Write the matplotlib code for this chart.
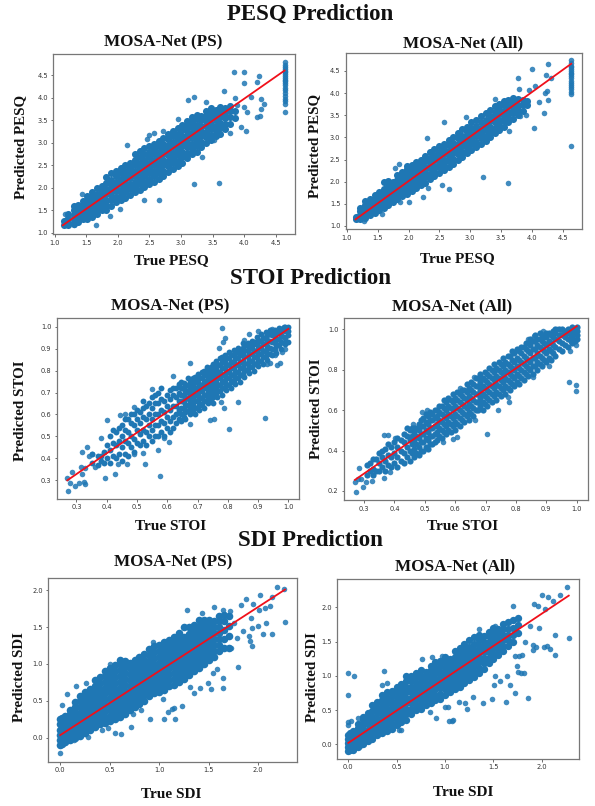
import matplotlib
matplotlib.use("Agg")
import matplotlib.pyplot as plt

W, H = 595, 806

# Points are read off the picture by eye. The dense clouds cannot be told apart
# point by point, so each one is a thinned set: one row of predicted values per true value.

# PESQ, MOSA-Net (PS)
pesq_ps_true = [1.15, 1.22, 1.30, 1.37, 1.45, 1.52, 1.60, 1.67, 1.75, 1.82, 1.90, 1.97, 2.05, 2.12, 2.20, 2.27, 2.35, 2.42,
                2.50, 2.57, 2.65, 2.72, 2.80, 2.87, 2.95, 3.02, 3.10, 3.17, 3.25, 3.32, 3.40, 3.47, 3.55, 3.62, 3.70, 3.77, 3.85]
pesq_ps_pred = [[1.18, 1.27], [1.17, 1.25, 1.33, 1.42], [1.2, 1.3, 1.4, 1.5, 1.6], [1.25, 1.34, 1.44, 1.53, 1.62],
                [1.3, 1.4, 1.5, 1.6, 1.7], [1.3, 1.42, 1.53, 1.63, 1.73, 1.82], [1.35, 1.47, 1.58, 1.69, 1.8, 1.9],
                [1.42, 1.53, 1.64, 1.75, 1.86, 2.0], [1.5, 1.6, 1.71, 1.82, 1.93, 2.05], [1.5, 1.62, 1.74, 1.86, 1.98, 2.1, 2.25],
                [1.6, 1.72, 1.84, 1.95, 2.06, 2.18, 2.33], [1.68, 1.8, 1.92, 2.03, 2.14, 2.26, 2.38],
                [1.72, 1.84, 1.96, 2.08, 2.2, 2.32, 2.45], [1.78, 1.9, 2.02, 2.14, 2.26, 2.38, 2.5],
                [1.85, 1.97, 2.09, 2.21, 2.33, 2.45, 2.56], [1.9, 2.02, 2.14, 2.26, 2.38, 2.5, 2.62, 2.75],
                [1.95, 2.08, 2.2, 2.32, 2.44, 2.56, 2.68, 2.82], [2.02, 2.14, 2.26, 2.38, 2.5, 2.62, 2.74, 2.88],
                [2.08, 2.2, 2.32, 2.44, 2.56, 2.68, 2.8, 2.93], [2.14, 2.26, 2.38, 2.5, 2.62, 2.74, 2.86, 2.98],
                [2.2, 2.32, 2.44, 2.56, 2.68, 2.8, 2.92, 3.04], [2.26, 2.38, 2.5, 2.62, 2.74, 2.86, 2.98, 3.1],
                [2.36, 2.48, 2.6, 2.72, 2.84, 2.96, 3.08, 3.2], [2.42, 2.54, 2.66, 2.78, 2.9, 3.02, 3.14, 3.26],
                [2.48, 2.6, 2.72, 2.84, 2.96, 3.08, 3.2, 3.32], [2.56, 2.68, 2.8, 2.92, 3.04, 3.16, 3.28, 3.4],
                [2.66, 2.78, 2.9, 3.02, 3.14, 3.26, 3.38, 3.48], [2.74, 2.86, 2.98, 3.1, 3.22, 3.34, 3.46, 3.56],
                [2.8, 2.92, 3.04, 3.16, 3.28, 3.4, 3.52, 3.62], [2.9, 3.02, 3.14, 3.26, 3.38, 3.5, 3.6],
                [3.0, 3.12, 3.24, 3.36, 3.48, 3.6, 3.7], [3.06, 3.18, 3.3, 3.42, 3.54, 3.66, 3.76],
                [3.14, 3.26, 3.38, 3.5, 3.62, 3.72], [3.2, 3.32, 3.44, 3.56, 3.68, 3.8], [3.3, 3.42, 3.54, 3.66, 3.78],
                [3.42, 3.56, 3.7, 3.82], [3.55, 3.7]]
pesq_ps_out_x = [3.84, 3.99, 4.0, 4.23, 4.21, 3.68, 3.11, 3.2, 3.85, 4.11, 4.26, 4.32, 4.26, 4.21, 4.25, 3.95, 4.03, 3.77, 3.34, 3.21, 3.61,
                 2.65, 2.42, 2.04, 1.87, 1.65, 1.16, 2.15, 1.43, 3.4, 2.95, 2.72, 2.58, 2.49, 2.46, 1.3, 3.52, 4.04, 3.99, 3.89]
pesq_ps_out_y = [4.57, 4.56, 4.32, 4.48, 4.35, 4.15, 3.95, 4.01, 3.99, 4.02, 3.98, 3.85, 3.75, 3.58, 3.59, 3.34, 3.25, 3.21, 2.68, 2.09, 2.11,
                 1.72, 1.74, 1.54, 1.37, 1.18, 1.42, 2.94, 1.87, 3.91, 3.52, 3.26, 3.21, 3.17, 3.09, 1.17, 3.06, 3.69, 3.8, 3.84]
pesq_ps_top_x = [4.64] * 21
pesq_ps_top_y = [3.68, 3.85, 3.92, 3.98, 4.04, 4.1, 4.16, 4.22, 4.27, 4.32, 4.36, 4.4, 4.44, 4.48, 4.52, 4.56, 4.6, 4.64, 4.68, 4.73, 4.78]
pesq_ps_fit_x = [1.13, 4.64]
pesq_ps_fit_y = [1.17, 4.6]

# PESQ, MOSA-Net (All)
pesq_all_true = [1.15, 1.22, 1.30, 1.37, 1.45, 1.52, 1.60, 1.67, 1.75, 1.82, 1.90, 1.97, 2.05, 2.12, 2.20, 2.27, 2.35, 2.42, 2.50,
                 2.57, 2.65, 2.72, 2.80, 2.87, 2.95, 3.02, 3.10, 3.17, 3.25, 3.32, 3.40, 3.47, 3.55, 3.62, 3.70, 3.77, 3.85, 3.93]
pesq_all_pred = [[1.15, 1.2], [1.15, 1.24, 1.33, 1.4], [1.18, 1.28, 1.38, 1.48, 1.56], [1.24, 1.34, 1.44, 1.54, 1.6],
                 [1.3, 1.4, 1.5, 1.6, 1.7], [1.35, 1.46, 1.56, 1.66, 1.76], [1.4, 1.51, 1.62, 1.73, 1.84, 2.0],
                 [1.47, 1.58, 1.69, 1.8, 1.91, 2.02], [1.55, 1.66, 1.77, 1.88, 1.99], [1.6, 1.71, 1.82, 1.93, 2.04, 2.14],
                 [1.68, 1.79, 1.9, 2.01, 2.12, 2.22], [1.73, 1.84, 1.95, 2.06, 2.17, 2.28, 2.36],
                 [1.78, 1.9, 2.02, 2.14, 2.26, 2.38], [1.85, 1.97, 2.09, 2.21, 2.33, 2.44], [1.92, 2.04, 2.16, 2.28, 2.4, 2.5],
                 [1.98, 2.1, 2.22, 2.34, 2.46, 2.58], [2.06, 2.18, 2.3, 2.42, 2.54, 2.68], [2.12, 2.24, 2.36, 2.48, 2.6, 2.74],
                 [2.2, 2.32, 2.44, 2.56, 2.68, 2.8], [2.26, 2.38, 2.5, 2.62, 2.74, 2.86], [2.34, 2.46, 2.58, 2.7, 2.82, 2.94],
                 [2.4, 2.52, 2.64, 2.76, 2.88, 3.0], [2.5, 2.62, 2.74, 2.86, 2.98, 3.1], [2.56, 2.68, 2.8, 2.92, 3.04, 3.18],
                 [2.64, 2.76, 2.88, 3.0, 3.12, 3.24], [2.72, 2.84, 2.96, 3.08, 3.2, 3.34], [2.78, 2.9, 3.02, 3.14, 3.26, 3.4],
                 [2.86, 2.98, 3.1, 3.22, 3.34, 3.48], [2.92, 3.04, 3.16, 3.28, 3.4, 3.54], [3.0, 3.12, 3.24, 3.36, 3.48, 3.62],
                 [3.1, 3.22, 3.34, 3.46, 3.58, 3.7], [3.16, 3.28, 3.4, 3.52, 3.64, 3.76], [3.24, 3.36, 3.48, 3.6, 3.72, 3.82],
                 [3.34, 3.46, 3.58, 3.7, 3.84], [3.42, 3.54, 3.66, 3.78, 3.88], [3.5, 3.62, 3.74, 3.86], [3.6, 3.72, 3.84], [3.72, 3.82]]
pesq_all_out_x = [4.0, 4.27, 3.78, 4.23, 4.32, 4.05, 4.24, 4.21, 3.96, 3.8, 4.27, 4.11, 4.2, 3.9, 3.81, 4.03, 3.63, 3.21, 3.61, 2.65,
                  2.58, 2.3, 2.94, 1.78, 1.85, 1.86, 2.01, 2.24, 1.57, 1.27, 1.16, 2.32, 2.54, 3.4, 4.64]
pesq_all_out_y = [4.55, 4.66, 4.34, 4.4, 4.35, 4.15, 4.05, 4.0, 4.07, 4.1, 3.84, 3.8, 3.54, 3.5, 3.49, 3.22, 3.14, 2.1, 1.98, 1.83,
                  3.35, 2.99, 3.45, 2.31, 2.4, 1.55, 1.54, 1.66, 1.27, 1.12, 1.16, 1.85, 1.93, 3.87, 2.8]
pesq_all_top_x = [4.64] * 17
pesq_all_top_y = [3.98, 4.03, 4.08, 4.13, 4.18, 4.23, 4.28, 4.33, 4.38, 4.42, 4.46, 4.5, 4.54, 4.58, 4.62, 4.68, 4.74]
pesq_all_fit_x = [1.14, 4.64]
pesq_all_fit_y = [1.15, 4.66]

# STOI, MOSA-Net (PS)
stoi_ps_true = [0.35, 0.37, 0.39, 0.41, 0.43, 0.45, 0.47, 0.49, 0.51, 0.53, 0.55, 0.57, 0.59, 0.61, 0.63, 0.645, 0.66, 0.675, 0.69, 0.705,
                0.72, 0.735, 0.75, 0.765, 0.78, 0.795, 0.81, 0.825, 0.84, 0.855, 0.87, 0.885, 0.90, 0.915, 0.93, 0.945, 0.96, 0.975, 0.99, 1.0]
stoi_ps_pred = [[0.38, 0.42], [0.37, 0.41], [0.38, 0.43], [0.38, 0.44, 0.5], [0.4, 0.46, 0.52], [0.39, 0.45, 0.5, 0.55],
                [0.41, 0.47, 0.52, 0.58], [0.43, 0.49, 0.55, 0.6], [0.46, 0.51, 0.56, 0.61], [0.46, 0.52, 0.58, 0.64],
                [0.48, 0.53, 0.58, 0.63, 0.68], [0.5, 0.55, 0.6, 0.65, 0.7], [0.5, 0.56, 0.61, 0.66], [0.52, 0.57, 0.62, 0.67, 0.71],
                [0.56, 0.6, 0.64, 0.68, 0.72], [0.57, 0.6, 0.63, 0.66, 0.69, 0.72, 0.75], [0.58, 0.61, 0.64, 0.67, 0.7, 0.73],
                [0.6, 0.63, 0.66, 0.69, 0.72, 0.75], [0.6, 0.63, 0.66, 0.69, 0.72, 0.75, 0.77], [0.62, 0.65, 0.68, 0.71, 0.74, 0.77],
                [0.63, 0.66, 0.69, 0.72, 0.75, 0.78, 0.8], [0.65, 0.68, 0.71, 0.74, 0.77, 0.8], [0.65, 0.68, 0.71, 0.74, 0.77, 0.8, 0.83],
                [0.68, 0.71, 0.74, 0.77, 0.8, 0.83], [0.69, 0.72, 0.75, 0.78, 0.81, 0.84, 0.86], [0.71, 0.74, 0.77, 0.8, 0.83, 0.86],
                [0.72, 0.75, 0.78, 0.81, 0.84, 0.87], [0.74, 0.77, 0.8, 0.83, 0.86, 0.88], [0.75, 0.78, 0.81, 0.84, 0.87, 0.89],
                [0.77, 0.8, 0.83, 0.86, 0.89, 0.91], [0.79, 0.82, 0.85, 0.88, 0.91, 0.92], [0.8, 0.83, 0.86, 0.89, 0.92, 0.93],
                [0.82, 0.85, 0.88, 0.91, 0.94], [0.83, 0.86, 0.89, 0.92, 0.95], [0.85, 0.88, 0.91, 0.94, 0.96], [0.87, 0.9, 0.93, 0.96, 0.98],
                [0.88, 0.91, 0.94, 0.97], [0.9, 0.93, 0.96, 0.99], [0.92, 0.95, 0.98, 1.0], [0.93, 0.96, 0.98, 1.0]]
stoi_ps_true2 = [0.38, 0.40, 0.42, 0.44, 0.46, 0.48, 0.50, 0.52, 0.54, 0.56, 0.58, 0.60, 0.62, 0.64, 0.655, 0.67, 0.685, 0.70, 0.715, 0.73, 0.745,
                 0.76, 0.775, 0.79, 0.805, 0.82, 0.835, 0.85, 0.865, 0.88, 0.895, 0.91, 0.925, 0.94, 0.955, 0.97, 0.985]
stoi_ps_pred2 = [[0.39, 0.41], [0.4, 0.46], [0.41, 0.47, 0.53], [0.42, 0.48, 0.54], [0.42, 0.48, 0.53, 0.58], [0.45, 0.5, 0.56, 0.6],
                 [0.47, 0.53, 0.58, 0.62], [0.48, 0.53, 0.59, 0.63, 0.66], [0.5, 0.55, 0.6, 0.65], [0.5, 0.55, 0.6, 0.65, 0.69],
                 [0.52, 0.57, 0.62, 0.67, 0.72], [0.54, 0.59, 0.64, 0.69], [0.54, 0.59, 0.64, 0.69, 0.72], [0.58, 0.62, 0.66, 0.7, 0.74],
                 [0.59, 0.625, 0.655, 0.685, 0.715, 0.745], [0.615, 0.645, 0.675, 0.705, 0.735, 0.765], [0.615, 0.645, 0.675, 0.705, 0.735, 0.765],
                 [0.635, 0.665, 0.695, 0.725, 0.755, 0.785], [0.645, 0.675, 0.705, 0.735, 0.765, 0.795], [0.665, 0.695, 0.725, 0.755, 0.785, 0.815],
                 [0.665, 0.695, 0.725, 0.755, 0.785, 0.815], [0.695, 0.725, 0.755, 0.785, 0.815, 0.845], [0.705, 0.735, 0.765, 0.795, 0.825, 0.855],
                 [0.725, 0.755, 0.785, 0.815, 0.845, 0.87], [0.735, 0.765, 0.795, 0.825, 0.855, 0.885], [0.755, 0.785, 0.815, 0.845, 0.875, 0.895],
                 [0.765, 0.795, 0.825, 0.855, 0.885, 0.905], [0.785, 0.815, 0.845, 0.875, 0.905, 0.925], [0.805, 0.835, 0.865, 0.895, 0.925],
                 [0.815, 0.845, 0.875, 0.905, 0.935], [0.835, 0.865, 0.895, 0.925, 0.955], [0.845, 0.875, 0.905, 0.935, 0.965],
                 [0.865, 0.895, 0.925, 0.955, 0.975], [0.875, 0.905, 0.935, 0.965, 0.985], [0.895, 0.925, 0.955, 0.985],
                 [0.915, 0.945, 0.975, 0.995], [0.925, 0.955, 0.985, 1.0]]
stoi_ps_out_x = [0.78, 0.79, 0.785, 0.77, 0.9, 0.87, 0.945, 0.855, 0.676, 0.62, 0.55, 0.4, 0.38, 0.335, 0.32, 0.285, 0.27, 0.272, 0.297, 0.308, 0.28,
                 0.325, 0.328, 0.318, 0.315, 0.395, 0.427, 0.526, 0.576, 0.569, 0.467, 0.52, 0.49, 0.437, 0.607, 0.59, 0.675, 0.74, 0.756, 0.805,
                 0.923, 0.834, 0.788, 0.778, 0.972, 0.961, 0.939, 0.93, 0.98, 0.99, 0.956, 0.46, 0.444, 0.49, 0.34, 0.36, 0.35, 0.33]
stoi_ps_out_y = [0.995, 0.95, 0.93, 0.905, 0.98, 0.965, 0.99, 0.94, 0.833, 0.775, 0.715, 0.575, 0.495, 0.45, 0.43, 0.34, 0.31, 0.253, 0.276, 0.29, 0.29,
                 0.294, 0.285, 0.328, 0.36, 0.31, 0.33, 0.375, 0.32, 0.44, 0.375, 0.425, 0.42, 0.373, 0.476, 0.494, 0.555, 0.575, 0.578, 0.535,
                 0.582, 0.658, 0.63, 0.658, 0.833, 0.825, 0.836, 0.828, 0.883, 0.9, 0.87, 0.603, 0.598, 0.634, 0.41, 0.36, 0.42, 0.355]
stoi_ps_fit_x = [0.27, 1.0]
stoi_ps_fit_y = [0.30, 0.99]

# STOI, MOSA-Net (All)
stoi_all_true = [0.31, 0.33, 0.35, 0.37, 0.39, 0.41, 0.43, 0.45, 0.465, 0.48, 0.495, 0.51, 0.525, 0.54, 0.555, 0.57, 0.585, 0.60, 0.615, 0.63, 0.645,
                 0.66, 0.675, 0.69, 0.705, 0.72, 0.735, 0.75, 0.765, 0.78, 0.795, 0.81, 0.825, 0.84, 0.855, 0.87, 0.885, 0.90, 0.915, 0.93, 0.95, 0.97, 0.985, 1.0]
stoi_all_pred = [[0.28, 0.33], [0.28, 0.31, 0.36], [0.3, 0.34, 0.39], [0.3, 0.35, 0.41], [0.32, 0.37, 0.42], [0.32, 0.37, 0.42, 0.46],
                 [0.34, 0.39, 0.44, 0.48], [0.35, 0.4, 0.45, 0.5], [0.37, 0.41, 0.45, 0.49, 0.51], [0.38, 0.42, 0.46, 0.5, 0.53],
                 [0.4, 0.44, 0.48, 0.52, 0.56], [0.41, 0.45, 0.49, 0.53, 0.57], [0.43, 0.47, 0.51, 0.55, 0.58], [0.45, 0.49, 0.53, 0.57, 0.6],
                 [0.46, 0.5, 0.54, 0.58, 0.62], [0.48, 0.52, 0.56, 0.6, 0.64], [0.49, 0.53, 0.57, 0.61, 0.65], [0.5, 0.54, 0.58, 0.62, 0.66],
                 [0.52, 0.56, 0.6, 0.64, 0.68], [0.54, 0.58, 0.62, 0.66, 0.7], [0.55, 0.59, 0.63, 0.67, 0.71], [0.57, 0.61, 0.65, 0.69, 0.73],
                 [0.6, 0.64, 0.68, 0.72, 0.76], [0.6, 0.64, 0.68, 0.72, 0.76], [0.62, 0.66, 0.7, 0.74, 0.78], [0.64, 0.68, 0.72, 0.76, 0.8],
                 [0.65, 0.69, 0.73, 0.77, 0.81], [0.67, 0.71, 0.75, 0.79, 0.83], [0.68, 0.72, 0.76, 0.8, 0.84], [0.7, 0.74, 0.78, 0.82, 0.87],
                 [0.72, 0.76, 0.8, 0.84, 0.88], [0.73, 0.77, 0.81, 0.85, 0.89], [0.75, 0.79, 0.83, 0.87, 0.91], [0.77, 0.81, 0.85, 0.89, 0.93],
                 [0.78, 0.82, 0.86, 0.9, 0.94], [0.8, 0.84, 0.88, 0.92, 0.95], [0.82, 0.86, 0.9, 0.94, 0.96], [0.84, 0.88, 0.92, 0.96, 0.98],
                 [0.85, 0.89, 0.93, 0.97], [0.87, 0.91, 0.95, 0.98, 1.0], [0.89, 0.93, 0.97, 1.0], [0.91, 0.95, 0.98, 1.0], [0.93, 0.96, 0.99, 1.01], [0.95, 0.97, 0.99, 1.01]]
stoi_all_true2 = [0.32, 0.34, 0.36, 0.38, 0.40, 0.42, 0.44, 0.4575, 0.4725, 0.4875, 0.5025, 0.5175, 0.5325, 0.5475, 0.5625, 0.5775, 0.5925, 0.6075, 0.6225,
                  0.6375, 0.6525, 0.6675, 0.6825, 0.6975, 0.7125, 0.7275, 0.7425, 0.7575, 0.7725, 0.7875, 0.8025, 0.8175, 0.8325, 0.8475, 0.8625, 0.8775,
                  0.8925, 0.9075, 0.9225, 0.94, 0.96, 0.98, 0.995]
stoi_all_pred2 = [[0.3, 0.34], [0.3, 0.36], [0.32, 0.37, 0.4], [0.33, 0.38, 0.43], [0.34, 0.39, 0.44], [0.35, 0.4, 0.45], [0.37, 0.42, 0.47, 0.51],
                  [0.39, 0.43, 0.47, 0.51], [0.39, 0.43, 0.47, 0.51], [0.4, 0.44, 0.48, 0.52, 0.55], [0.42, 0.46, 0.5, 0.54, 0.58], [0.43, 0.47, 0.51, 0.55, 0.59],
                  [0.44, 0.48, 0.52, 0.56, 0.6], [0.47, 0.51, 0.55, 0.59, 0.62], [0.49, 0.53, 0.57, 0.61, 0.65], [0.5, 0.54, 0.58, 0.62, 0.66],
                  [0.52, 0.56, 0.6, 0.64, 0.68], [0.53, 0.57, 0.61, 0.65, 0.69], [0.55, 0.59, 0.63, 0.67, 0.7], [0.57, 0.61, 0.65, 0.69, 0.73],
                  [0.58, 0.62, 0.66, 0.7, 0.74], [0.6, 0.64, 0.68, 0.72, 0.76], [0.62, 0.66, 0.7, 0.74, 0.78], [0.63, 0.67, 0.71, 0.75, 0.79],
                  [0.65, 0.69, 0.73, 0.77, 0.81], [0.67, 0.71, 0.75, 0.79, 0.83], [0.68, 0.72, 0.76, 0.8, 0.84], [0.7, 0.74, 0.78, 0.82, 0.86],
                  [0.71, 0.75, 0.79, 0.83, 0.87], [0.73, 0.77, 0.81, 0.85, 0.89], [0.74, 0.78, 0.82, 0.86, 0.9], [0.76, 0.8, 0.84, 0.88, 0.91],
                  [0.78, 0.82, 0.86, 0.9, 0.93], [0.8, 0.84, 0.88, 0.92, 0.95], [0.82, 0.86, 0.9, 0.94, 0.97], [0.83, 0.87, 0.91, 0.95, 0.98],
                  [0.85, 0.89, 0.93, 0.97], [0.86, 0.9, 0.94, 0.98], [0.88, 0.92, 0.96, 0.99], [0.9, 0.94, 0.97, 1.0], [0.92, 0.96, 0.99], [0.94, 0.97, 1.0], [0.94, 0.98, 1.0]]
stoi_all_out_x = [0.273, 0.297, 0.305, 0.285, 0.27, 0.327, 0.367, 0.385, 0.367, 0.378, 0.402, 0.46, 0.49, 0.507, 0.616, 0.662, 0.706, 0.606, 0.592, 0.561,
                  0.742, 0.778, 0.665, 0.86, 0.838, 0.89, 0.934, 0.947, 0.973, 0.998, 0.998, 0.978, 0.998, 0.907, 0.857, 0.775, 0.28, 0.29]
stoi_all_out_y = [0.193, 0.218, 0.246, 0.312, 0.246, 0.251, 0.266, 0.296, 0.477, 0.476, 0.46, 0.533, 0.59, 0.6, 0.708, 0.766, 0.48, 0.467, 0.457, 0.44,
                  0.6, 0.64, 0.55, 0.967, 0.953, 0.99, 1.0, 0.997, 0.741, 0.725, 0.695, 0.89, 0.92, 0.82, 0.763, 0.667, 0.26, 0.26]
stoi_all_fit_x = [0.27, 1.0]
stoi_all_fit_y = [0.255, 1.015]

# SDI, MOSA-Net (PS)
sdi_ps_true = [0.0, 0.02, 0.05, 0.1, 0.15, 0.2, 0.25, 0.3, 0.35, 0.4, 0.45, 0.5, 0.55, 0.6, 0.65, 0.7, 0.75, 0.8, 0.85, 0.9, 0.95,
               1.0, 1.05, 1.1, 1.15, 1.2, 1.25, 1.3, 1.35, 1.4, 1.45, 1.5, 1.55, 1.6, 1.65, 1.7]
sdi_ps_pred = [[-0.1, -0.03, 0.04, 0.11, 0.18, 0.25], [-0.08, -0.01, 0.06, 0.13, 0.2, 0.27], [-0.06, 0.01, 0.08, 0.15, 0.22, 0.3],
               [-0.03, 0.04, 0.11, 0.18, 0.25, 0.32, 0.38], [0.0, 0.07, 0.14, 0.21, 0.28, 0.35, 0.42, 0.48],
               [0.02, 0.1, 0.18, 0.26, 0.34, 0.42, 0.5, 0.56], [0.06, 0.14, 0.22, 0.3, 0.38, 0.46, 0.54, 0.62], [0.1, 0.18, 0.26, 0.34, 0.42, 0.5, 0.58, 0.66],
               [0.14, 0.22, 0.3, 0.38, 0.46, 0.54, 0.62, 0.7, 0.78], [0.18, 0.26, 0.34, 0.42, 0.5, 0.58, 0.66, 0.74, 0.82],
               [0.2, 0.28, 0.36, 0.44, 0.52, 0.6, 0.68, 0.76, 0.84, 0.9], [0.22, 0.3, 0.38, 0.46, 0.54, 0.62, 0.7, 0.78, 0.86, 0.94],
               [0.26, 0.34, 0.42, 0.5, 0.58, 0.66, 0.74, 0.82, 0.9, 0.98], [0.28, 0.36, 0.44, 0.52, 0.6, 0.68, 0.76, 0.84, 0.92, 1.0, 1.06],
               [0.32, 0.4, 0.48, 0.56, 0.64, 0.72, 0.8, 0.88, 0.96, 1.04], [0.38, 0.46, 0.54, 0.62, 0.7, 0.78, 0.86, 0.94, 1.02],
               [0.42, 0.5, 0.58, 0.66, 0.74, 0.82, 0.9, 0.98, 1.06], [0.46, 0.54, 0.62, 0.7, 0.78, 0.86, 0.94, 1.02, 1.1],
               [0.5, 0.58, 0.66, 0.74, 0.82, 0.9, 0.98, 1.06, 1.13], [0.56, 0.64, 0.72, 0.8, 0.88, 0.96, 1.04, 1.12, 1.2],
               [0.6, 0.68, 0.76, 0.84, 0.92, 1.0, 1.08, 1.16, 1.25], [0.62, 0.7, 0.78, 0.86, 0.94, 1.02, 1.1, 1.18, 1.26],
               [0.65, 0.73, 0.81, 0.89, 0.97, 1.05, 1.13, 1.21, 1.3], [0.7, 0.78, 0.86, 0.94, 1.02, 1.1, 1.18, 1.26, 1.32],
               [0.72, 0.8, 0.88, 0.96, 1.04, 1.12, 1.2, 1.28, 1.36], [0.76, 0.84, 0.92, 1.0, 1.08, 1.16, 1.24, 1.32, 1.42],
               [0.8, 0.88, 0.96, 1.04, 1.12, 1.2, 1.28, 1.36, 1.5], [0.85, 0.93, 1.01, 1.09, 1.17, 1.25, 1.33, 1.41, 1.5],
               [0.9, 0.98, 1.06, 1.14, 1.22, 1.3, 1.38, 1.46, 1.53], [0.95, 1.03, 1.11, 1.19, 1.27, 1.35, 1.43, 1.51, 1.6],
               [1.0, 1.08, 1.16, 1.24, 1.32, 1.4, 1.48, 1.56, 1.6], [1.05, 1.13, 1.21, 1.29, 1.37, 1.45, 1.53, 1.6],
               [1.1, 1.18, 1.26, 1.34, 1.42, 1.5, 1.58], [1.18, 1.26, 1.34, 1.42, 1.5, 1.58, 1.65], [1.22, 1.34, 1.46, 1.58, 1.67], [1.22, 1.38, 1.52, 1.65]]
sdi_ps_out_x = [0.0, 2.27, 2.255, 2.19, 2.02, 2.135, 1.83, 1.875, 1.95, 2.01, 2.07, 2.12, 1.93, 2.08, 2.0, 1.94, 2.05, 2.14, 1.91, 1.92, 1.94, 1.8, 1.64, 1.52,
                1.49, 1.64, 1.545, 1.585, 1.41, 1.35, 1.31, 1.225, 1.15, 1.16, 1.05, 0.905, 1.085, 1.125, 0.71, 0.61, 0.55, 0.485, 0.42, 0.28, 0.14,
                1.28, 1.43, 1.555, 1.64, 1.71, 0.94, 0.5, 0.26, 0.16, 0.065, 0.02, 0.82, 1.04, 0.73, 1.75, 1.78, 1.72, 1.85]
sdi_ps_out_y = [-0.21, 1.565, 2.02, 2.05, 1.94, 1.905, 1.8, 1.88, 1.82, 1.73, 1.755, 1.79, 1.63, 1.55, 1.51, 1.49, 1.41, 1.41, 1.385, 1.31, 1.25, 0.955, 0.67, 0.66,
                0.74, 0.805, 0.873, 0.93, 0.68, 0.6, 0.69, 0.435, 0.4, 0.26, 0.26, 0.25, 0.35, 0.385, 0.14, 0.05, 0.07, 0.125, 0.1, 0.01, -0.03,
                1.73, 1.69, 1.78, 1.73, 1.72, 1.3, 1.0, 0.74, 0.705, 0.59, 0.45, 0.375, 0.52, 0.32, 1.55, 1.35, 1.22, 1.45]
sdi_ps_fit_x = [0.0, 2.27]
sdi_ps_fit_y = [0.035, 2.01]

# SDI, MOSA-Net (All)
sdi_all_true = [0.0, 0.02, 0.05, 0.1, 0.15, 0.2, 0.25, 0.3, 0.35, 0.4, 0.45, 0.5, 0.55, 0.6, 0.65, 0.7, 0.75, 0.8, 0.85, 0.9, 0.95,
                1.0, 1.05, 1.1, 1.15, 1.2, 1.25, 1.3, 1.35, 1.4, 1.45, 1.5, 1.55, 1.6, 1.65, 1.7, 1.75]
sdi_all_pred = [[-0.1, -0.04, 0.02, 0.08, 0.14], [-0.09, -0.03, 0.03, 0.09, 0.16], [-0.08, -0.01, 0.06, 0.13, 0.2],
                [-0.04, 0.03, 0.1, 0.17, 0.24, 0.3], [0.01, 0.08, 0.15, 0.22, 0.29, 0.36, 0.4], [0.05, 0.13, 0.21, 0.29, 0.37, 0.45],
                [0.08, 0.16, 0.24, 0.32, 0.4, 0.48, 0.58], [0.13, 0.21, 0.29, 0.37, 0.45, 0.53, 0.62], [0.16, 0.24, 0.32, 0.4, 0.48, 0.56, 0.64, 0.72],
                [0.2, 0.28, 0.36, 0.44, 0.52, 0.6, 0.68, 0.76], [0.22, 0.3, 0.38, 0.46, 0.54, 0.62, 0.7, 0.78], [0.28, 0.36, 0.44, 0.52, 0.6, 0.68, 0.76, 0.84],
                [0.32, 0.4, 0.48, 0.56, 0.64, 0.72, 0.8, 0.88], [0.36, 0.44, 0.52, 0.6, 0.68, 0.76, 0.84, 0.92, 1.0], [0.44, 0.52, 0.6, 0.68, 0.76, 0.84, 0.92, 1.0],
                [0.5, 0.58, 0.66, 0.74, 0.82, 0.9, 0.98, 1.04], [0.52, 0.6, 0.68, 0.76, 0.84, 0.92, 1.0, 1.08], [0.58, 0.66, 0.74, 0.82, 0.9, 0.98, 1.06],
                [0.6, 0.68, 0.76, 0.84, 0.92, 1.0, 1.08, 1.14], [0.64, 0.72, 0.8, 0.88, 0.96, 1.04, 1.12, 1.2], [0.66, 0.74, 0.82, 0.9, 0.98, 1.06, 1.14, 1.22],
                [0.72, 0.8, 0.88, 0.96, 1.04, 1.12, 1.2, 1.28], [0.76, 0.84, 0.92, 1.0, 1.08, 1.16, 1.24], [0.8, 0.88, 0.96, 1.04, 1.12, 1.2, 1.28, 1.36],
                [0.84, 0.92, 1.0, 1.08, 1.16, 1.24, 1.32, 1.4], [0.9, 0.98, 1.06, 1.14, 1.22, 1.3, 1.38, 1.46], [0.94, 1.02, 1.1, 1.18, 1.26, 1.34, 1.42, 1.52],
                [0.98, 1.06, 1.14, 1.22, 1.3, 1.38, 1.46, 1.56], [1.04, 1.12, 1.2, 1.28, 1.36, 1.44, 1.52, 1.6], [1.1, 1.18, 1.26, 1.34, 1.42, 1.5, 1.58],
                [1.18, 1.26, 1.34, 1.42, 1.5, 1.58, 1.64], [1.24, 1.32, 1.4, 1.48, 1.56, 1.64, 1.7], [1.3, 1.38, 1.46, 1.54, 1.62, 1.68],
                [1.36, 1.44, 1.52, 1.6, 1.68, 1.76], [1.44, 1.52, 1.6, 1.68, 1.78], [1.5, 1.6, 1.7, 1.82], [1.62, 1.74, 1.84]]
sdi_all_out_x = [2.26, 2.28, 2.0, 2.065, 2.19, 2.12, 1.92, 1.96, 2.03, 1.7, 2.14, 1.975, 1.88, 1.91, 1.94, 2.02, 2.06, 2.09, 2.14, 1.91, 1.72, 1.8, 1.77, 1.83, 1.82, 1.855,
                 1.63, 1.72, 1.67, 1.75, 1.79, 1.74, 1.52, 1.57, 1.645, 1.51, 1.49, 1.39, 1.29, 1.225, 1.21, 1.145, 1.085, 1.075, 1.045, 1.035, 1.0, 0.905, 0.845,
                 0.0, 0.06, 0.0, 0.37, 0.35, 0.405, 0.52, 0.55, 0.0, 0.03, 0.0, 0.1, 0.76, 0.87, 0.965, 1.35, 1.52, 0.25, 0.12]
sdi_all_out_y = [2.29, 1.555, 2.175, 2.15, 2.175, 2.09, 2.05, 2.02, 1.97, 2.015, 1.6, 1.695, 1.72, 1.45, 1.415, 1.415, 1.44, 1.39, 1.3, 1.37, 1.295, 1.3, 1.29, 1.5, 1.04, 0.68,
                 0.62, 0.75, 0.865, 1.06, 1.04, 1.145, 0.99, 0.93, 0.99, 0.865, 0.665, 0.6, 0.695, 0.51, 0.6, 0.615, 0.355, 0.335, 0.335, 0.55, 0.55, 0.39, 0.475,
                 1.045, 0.995, 0.72, 1.075, 0.865, 0.89, 0.21, 0.21, 0.33, 0.345, 0.28, 0.38, 1.24, 1.27, 1.29, 1.69, 1.72, 0.07, -0.03]
sdi_all_fit_x = [0.0, 2.28]
sdi_all_fit_y = [0.02, 2.17]

fig = plt.figure(figsize=(W / 100, H / 100), dpi=100)


def flatten(true_vals, pred_rows):
    xs, ys = [], []
    for t, row in zip(true_vals, pred_rows):
        for p in row:
            xs.append(t)
            ys.append(p)
    return xs, ys


def put_text(x, y, s, size, rotation=0):
    fig.text(x / W, 1 - y / H, s, fontsize=size, rotation=rotation, ha="center", va="center",
             family="Liberation Serif", fontweight="bold", color="#111111")


def panel(box, xlim, ylim, xticks, yticks, core, core_size, single, fit_x, fit_y):
    left, top, right, bottom = box
    ax = fig.add_axes([left / W, 1 - bottom / H, (right - left) / W, (bottom - top) / H])
    # the thinned core needs a bigger dot so the cloud closes up like the original
    for xs, ys in core:
        ax.scatter(xs, ys, s=core_size, color="#1f77b4", linewidths=0)
    for xs, ys in single:
        ax.scatter(xs, ys, s=16, color="#1f77b4", alpha=0.85, linewidths=0)
    ax.plot(fit_x, fit_y, color="#f0101a", lw=1.3)
    ax.set_xlim(xlim)
    ax.set_ylim(ylim)
    ax.set_xticks(xticks)
    ax.set_yticks(yticks)
    ax.set_xticklabels([f"{t:.1f}" for t in xticks])
    ax.set_yticklabels([f"{t:.1f}" for t in yticks])
    ax.tick_params(labelsize=4.8, length=1.8, width=0.5, pad=2, colors="#333333")
    for s in ax.spines.values():
        s.set_linewidth(0.9)
        s.set_color("#777777")
    return ax


pesq_ticks_x = [1.0, 1.5, 2.0, 2.5, 3.0, 3.5, 4.0, 4.5]
pesq_ticks_y = [1.0, 1.5, 2.0, 2.5, 3.0, 3.5, 4.0, 4.5]
stoi_ticks_x = [0.3, 0.4, 0.5, 0.6, 0.7, 0.8, 0.9, 1.0]
sdi_ticks_x = [0.0, 0.5, 1.0, 1.5, 2.0]

panel((53.3, 54.3, 295, 234.3), (0.98, 4.805), (0.97, 4.96), pesq_ticks_x, pesq_ticks_y,
      [flatten(pesq_ps_true, pesq_ps_pred)], 26, [(pesq_ps_out_x, pesq_ps_out_y), (pesq_ps_top_x, pesq_ps_top_y)],
      pesq_ps_fit_x, pesq_ps_fit_y)
panel((345.7, 52.7, 582.3, 229.3), (0.98, 4.82), (0.925, 4.91), pesq_ticks_x, pesq_ticks_y,
      [flatten(pesq_all_true, pesq_all_pred)], 26, [(pesq_all_out_x, pesq_all_out_y), (pesq_all_top_x, pesq_all_top_y)],
      pesq_all_fit_x, pesq_all_fit_y)
panel((56.7, 318.3, 299, 499), (0.235, 1.035), (0.215, 1.038), stoi_ticks_x, stoi_ticks_x,
      [flatten(stoi_ps_true, stoi_ps_pred), flatten(stoi_ps_true2, stoi_ps_pred2)], 18, [(stoi_ps_out_x, stoi_ps_out_y)],
      stoi_ps_fit_x, stoi_ps_fit_y)
panel((344, 318.3, 587.7, 500.3), (0.234, 1.036), (0.154, 1.054), stoi_ticks_x, [0.2, 0.4, 0.6, 0.8, 1.0],
      [flatten(stoi_all_true, stoi_all_pred), flatten(stoi_all_true2, stoi_all_pred2)], 20, [(stoi_all_out_x, stoi_all_out_y)],
      stoi_all_fit_x, stoi_all_fit_y)
panel((48.3, 578.3, 296.7, 761.7), (-0.121, 2.388), (-0.326, 2.163), sdi_ticks_x, sdi_ticks_x,
      [flatten(sdi_ps_true, sdi_ps_pred)], 30, [(sdi_ps_out_x, sdi_ps_out_y)], sdi_ps_fit_x, sdi_ps_fit_y)
panel((337.3, 579, 579.3, 759), (-0.114, 2.389), (-0.215, 2.413), sdi_ticks_x, sdi_ticks_x,
      [flatten(sdi_all_true, sdi_all_pred)], 28, [(sdi_all_out_x, sdi_all_out_y)], sdi_all_fit_x, sdi_all_fit_y)

put_text(310, 14, "PESQ Prediction", 16.5)
put_text(310, 279, "STOI Prediction", 16.5)
put_text(310, 540, "SDI Prediction", 16.5)

put_text(163, 42, "MOSA-Net (PS)", 12.3)
put_text(463, 43, "MOSA-Net (All)", 12.3)
put_text(170, 306, "MOSA-Net (PS)", 12.3)
put_text(452, 306, "MOSA-Net (All)", 12.3)
put_text(173, 562, "MOSA-Net (PS)", 12.3)
put_text(455, 566, "MOSA-Net (All)", 12.3)

put_text(171, 261, "True PESQ", 11)
put_text(457, 259, "True PESQ", 11)
put_text(171, 526, "True STOI", 11)
put_text(463, 526, "True STOI", 11)
put_text(171, 795, "True SDI", 11)
put_text(463, 792, "True SDI", 11)

put_text(21, 147, "Predicted PESQ", 10.8, 90)
put_text(315, 146, "Predicted PESQ", 10.8, 90)
put_text(21, 411, "Predicted STOI", 10.8, 90)
put_text(316, 409, "Predicted STOI", 10.8, 90)
put_text(20, 677, "Predicted SDI", 10.8, 90)
put_text(312, 677, "Predicted SDI", 10.8, 90)

fig.savefig("out.png", dpi=100)
